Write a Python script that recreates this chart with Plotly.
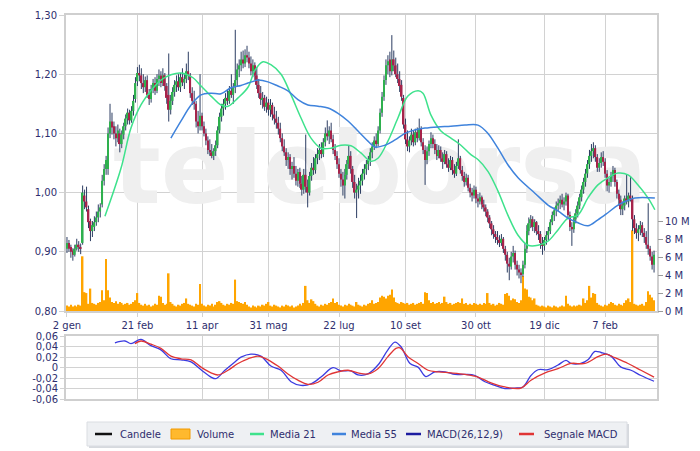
import plotly.graph_objects as go

# ---------------- data ----------------
TICK_IDX = [0, 36, 69, 103, 139, 173, 209, 244, 275]
TICK_LABELS = ["2 gen", "21 feb", "11 apr", "31 mag", "22 lug", "10 set", "30 ott", "19 dic", "7 feb"]

# prices in thousandths of a euro
OPEN = [
    905, 915, 908, 902, 895, 905, 912, 908, 915, 995,
    985, 972, 952, 935, 942, 950, 958, 968, 980, 1020,
    1040, 1040, 1100, 1120, 1112, 1100, 1092, 1100, 1082, 1098,
    1112, 1125, 1135, 1122, 1138, 1158, 1188, 1202, 1198, 1185,
    1178, 1190, 1165, 1158, 1175, 1185, 1172, 1192, 1198, 1185,
    1198, 1180, 1165, 1140, 1155, 1170, 1182, 1188, 1178, 1195,
    1186, 1192, 1205, 1198, 1168, 1155, 1150, 1120, 1112, 1130,
    1112, 1100, 1088, 1072, 1068, 1062, 1070, 1080, 1105, 1128,
    1142, 1150, 1160, 1155, 1172, 1165, 1178, 1190, 1208, 1215,
    1225, 1218, 1232, 1228, 1218, 1205, 1215, 1198, 1182, 1168,
    1158, 1160, 1145, 1152, 1140, 1148, 1132, 1125, 1118, 1108,
    1092, 1078, 1068, 1055, 1060, 1040, 1045, 1032, 1020, 1035,
    1015, 1005, 1030, 1010, 1000, 1028, 1042, 1038, 1058, 1065,
    1072, 1065, 1085, 1100, 1095, 1105, 1090, 1072, 1062, 1048,
    1032, 1022, 1012, 1030, 1048, 1062, 1040, 1018, 1000, 1005,
    1012, 1020, 1032, 1040, 1048, 1055, 1068, 1078, 1088, 1082,
    1105, 1135, 1162, 1190, 1215, 1225, 1205, 1225, 1215, 1200,
    1192, 1182, 1160, 1115, 1090, 1078, 1088, 1098, 1085, 1102,
    1092, 1108, 1085, 1072, 1055, 1070, 1082, 1092, 1082, 1072,
    1062, 1072, 1058, 1052, 1065, 1048, 1042, 1055, 1038, 1032,
    1045, 1058, 1038, 1028, 1018, 1025, 1008, 1000, 995, 1005,
    990, 985, 992, 980, 975, 968, 958, 948, 938, 930,
    925, 920, 915, 922, 905, 895, 880, 875, 892, 898,
    878, 870, 865, 862, 878, 905, 935, 948, 955, 942,
    950, 935, 930, 915, 910, 920, 928, 935, 950, 962,
    970, 978, 982, 988, 980, 985, 995, 962, 942, 938,
    955, 965, 978, 992, 1005, 1018, 1032, 1048, 1062, 1070,
    1075, 1060, 1042, 1050, 1060, 1052, 1032, 1012, 1018, 1028,
    1038, 1018, 998, 988, 972, 978, 990, 985, 995, 990,
    955, 940, 932, 938, 945, 932, 925, 912, 905, 892,
    878,
]
HIGH = [
    925, 920, 912, 906, 912, 922, 918, 914, 1012, 1005,
    1010, 978, 956, 952, 960, 968, 980, 982, 1030, 1048,
    1062, 1110, 1150, 1135, 1120, 1112, 1115, 1108, 1105, 1118,
    1132, 1142, 1140, 1146, 1165, 1195, 1212, 1216, 1210, 1200,
    1196, 1198, 1175, 1182, 1192, 1195, 1200, 1208, 1205, 1210,
    1202, 1185, 1235, 1165, 1178, 1190, 1198, 1200, 1202, 1210,
    1200, 1218, 1238, 1202, 1178, 1172, 1155, 1138, 1200, 1135,
    1120, 1108, 1095, 1090, 1082, 1075, 1088, 1112, 1135, 1150,
    1158, 1168, 1175, 1180, 1200, 1185, 1275, 1218, 1225, 1238,
    1240, 1242, 1248, 1238, 1230, 1225, 1220, 1212, 1192, 1180,
    1170, 1165, 1162, 1158, 1158, 1152, 1145, 1138, 1128, 1118,
    1100, 1090, 1075, 1068, 1065, 1052, 1060, 1045, 1040, 1042,
    1028, 1040, 1098, 1022, 1035, 1050, 1060, 1065, 1075, 1082,
    1085, 1092, 1110, 1122, 1112, 1118, 1098, 1082, 1070, 1058,
    1040, 1035, 1040, 1055, 1080, 1070, 1045, 1030, 1015, 1025,
    1030, 1040, 1048, 1055, 1062, 1075, 1085, 1095, 1100, 1112,
    1142, 1170, 1198, 1225, 1232, 1238, 1266, 1240, 1228, 1218,
    1205, 1190, 1165, 1125, 1105, 1095, 1108, 1105, 1108, 1110,
    1125, 1112, 1092, 1080, 1078, 1088, 1102, 1098, 1090, 1082,
    1080, 1078, 1068, 1072, 1070, 1058, 1062, 1060, 1048, 1052,
    1090, 1062, 1045, 1035, 1032, 1030, 1015, 1008, 1012, 1010,
    998, 1000, 995, 988, 980, 972, 962, 952, 945, 935,
    935, 928, 930, 925, 910, 900, 890, 900, 910, 902,
    885, 878, 872, 885, 915, 945, 958, 962, 960, 955,
    952, 945, 935, 925, 925, 935, 942, 955, 968, 975,
    985, 990, 995, 998, 992, 1000, 998, 968, 950, 960,
    972, 985, 998, 1012, 1025, 1040, 1055, 1072, 1082, 1085,
    1080, 1065, 1058, 1068, 1070, 1058, 1038, 1025, 1035, 1045,
    1042, 1022, 1005, 995, 985, 995, 1030, 1000, 1028, 995,
    962, 948, 945, 952, 950, 940, 935, 982, 910, 900,
    902,
]
LOW = [
    898, 900, 890, 885, 892, 902, 900, 896, 912, 972,
    968, 940, 918, 925, 935, 944, 950, 958, 975, 1012,
    1030, 1030, 1092, 1098, 1090, 1078, 1085, 1068, 1075, 1090,
    1105, 1115, 1115, 1118, 1130, 1152, 1180, 1188, 1175, 1168,
    1170, 1160, 1148, 1152, 1168, 1165, 1168, 1180, 1178, 1180,
    1172, 1150, 1120, 1132, 1148, 1162, 1170, 1172, 1170, 1180,
    1175, 1185, 1190, 1160, 1148, 1140, 1110, 1100, 1105, 1105,
    1095, 1080, 1065, 1062, 1058, 1055, 1062, 1075, 1100, 1120,
    1130, 1140, 1148, 1150, 1160, 1150, 1168, 1180, 1195, 1205,
    1210, 1212, 1220, 1210, 1198, 1195, 1190, 1175, 1160, 1148,
    1142, 1138, 1135, 1130, 1128, 1122, 1115, 1108, 1098, 1085,
    1070, 1062, 1045, 1040, 1030, 1022, 1025, 1012, 1010, 1008,
    995, 998, 1000, 975, 995, 1020, 1030, 1032, 1048, 1055,
    1058, 1060, 1078, 1088, 1082, 1085, 1065, 1055, 1040, 1025,
    1010, 995, 990, 1022, 1040, 1032, 1008, 990, 957, 990,
    998, 1012, 1022, 1030, 1038, 1045, 1058, 1072, 1075, 1078,
    1100, 1128, 1155, 1182, 1200, 1195, 1198, 1205, 1195, 1185,
    1170, 1155, 1108, 1082, 1070, 1068, 1080, 1078, 1080, 1085,
    1088, 1078, 1065, 1013, 1048, 1062, 1075, 1075, 1065, 1055,
    1058, 1052, 1040, 1048, 1042, 1035, 1038, 1030, 1025, 1028,
    1040, 1032, 1020, 1010, 1012, 1002, 992, 985, 990, 982,
    975, 980, 972, 968, 960, 950, 940, 928, 922, 915,
    912, 908, 910, 898, 885, 865, 852, 870, 882, 870,
    860, 855, 847, 858, 872, 898, 928, 940, 935, 932,
    928, 920, 905, 895, 902, 912, 920, 930, 945, 952,
    960, 968, 972, 975, 970, 978, 955, 935, 910, 932,
    948, 958, 972, 985, 998, 1010, 1025, 1040, 1052, 1058,
    1052, 1035, 1035, 1042, 1045, 1025, 1002, 1000, 1010, 1018,
    1010, 990, 978, 962, 962, 970, 980, 975, 985, 935,
    930, 922, 918, 928, 925, 915, 905, 895, 885, 870,
    865,
]
CLOSE = [
    915, 905, 900, 895, 905, 912, 908, 905, 1000, 985,
    975, 950, 935, 945, 950, 958, 968, 975, 1020, 1040,
    1055, 1100, 1120, 1110, 1100, 1092, 1105, 1082, 1098, 1112,
    1125, 1135, 1122, 1138, 1155, 1185, 1202, 1198, 1185, 1178,
    1190, 1165, 1158, 1175, 1185, 1172, 1192, 1198, 1185, 1198,
    1180, 1160, 1140, 1155, 1170, 1182, 1188, 1178, 1195, 1186,
    1192, 1205, 1198, 1168, 1155, 1150, 1120, 1112, 1130, 1112,
    1100, 1088, 1072, 1068, 1062, 1070, 1080, 1105, 1128, 1142,
    1150, 1160, 1155, 1172, 1165, 1178, 1190, 1208, 1215, 1225,
    1218, 1232, 1228, 1218, 1205, 1215, 1198, 1182, 1168, 1158,
    1160, 1145, 1152, 1140, 1148, 1132, 1125, 1118, 1108, 1092,
    1078, 1068, 1055, 1060, 1040, 1045, 1032, 1020, 1035, 1015,
    1005, 1030, 1010, 1000, 1028, 1042, 1038, 1058, 1065, 1072,
    1065, 1085, 1100, 1095, 1105, 1090, 1072, 1062, 1048, 1032,
    1022, 1012, 1030, 1048, 1062, 1040, 1018, 1000, 1005, 1012,
    1020, 1032, 1040, 1048, 1055, 1068, 1078, 1088, 1082, 1105,
    1135, 1162, 1190, 1215, 1222, 1205, 1225, 1215, 1200, 1192,
    1180, 1162, 1115, 1090, 1078, 1088, 1098, 1085, 1102, 1092,
    1108, 1085, 1072, 1055, 1070, 1082, 1092, 1082, 1072, 1062,
    1072, 1058, 1052, 1065, 1048, 1042, 1055, 1038, 1032, 1045,
    1058, 1038, 1028, 1018, 1025, 1008, 1000, 995, 1005, 990,
    985, 992, 980, 975, 968, 958, 948, 938, 930, 925,
    920, 915, 922, 905, 895, 880, 875, 892, 898, 878,
    870, 865, 862, 878, 905, 935, 948, 955, 942, 950,
    935, 930, 915, 910, 920, 928, 935, 950, 962, 970,
    978, 982, 988, 980, 985, 995, 962, 942, 938, 955,
    965, 978, 992, 1005, 1018, 1032, 1048, 1062, 1070, 1075,
    1060, 1042, 1050, 1060, 1052, 1032, 1012, 1018, 1028, 1038,
    1018, 998, 988, 972, 978, 990, 985, 995, 990, 955,
    940, 932, 938, 945, 932, 925, 912, 905, 892, 878,
    895,
]
# volume in tenths of a million shares
VOLUME = [
    6, 5, 7, 5, 6, 5, 7, 6, 61, 21,
    20, 8, 25, 9, 8, 7, 9, 10, 23, 12,
    58, 23, 15, 10, 9, 11, 8, 10, 9, 7,
    8, 9, 7, 8, 10, 12, 20, 9, 7, 6,
    8, 6, 7, 5, 6, 8, 7, 17, 16, 9,
    7, 8, 42, 10, 8, 6, 5, 7, 6, 8,
    9, 14, 8, 7, 6, 5, 8, 7, 30, 8,
    6, 5, 7, 6, 8, 5, 7, 10, 11, 9,
    7, 6, 8, 7, 9, 8, 35, 11, 10, 9,
    8, 10, 7, 5, 4, 6, 5, 4, 6, 5,
    7, 6, 8, 10, 6, 5, 7, 6, 5, 4,
    6, 5, 7, 6, 5, 6, 4, 5, 6, 8,
    6, 9, 28, 12, 9, 13, 11, 8, 6, 5,
    7, 6, 8, 7, 9, 10, 14, 9, 10, 7,
    6, 5, 7, 6, 8, 7, 6, 5, 10, 7,
    6, 5, 7, 6, 8, 9, 12, 8, 9, 10,
    15, 17, 16, 14, 17, 18, 24, 15, 10, 9,
    8, 10, 9, 8, 9, 7, 8, 9, 7, 8,
    9, 10, 8, 21, 20, 12, 9, 10, 8, 9,
    10, 8, 9, 16, 10, 8, 9, 7, 8, 9,
    10, 9, 14, 8, 9, 7, 8, 7, 9, 8,
    7, 8, 7, 9, 8, 20, 9, 7, 8, 6,
    7, 9, 8, 7, 19, 20, 17, 12, 14, 13,
    10, 9, 12, 39, 25, 24, 16, 15, 12, 14,
    7, 6, 5, 6, 5, 4, 6, 5, 4, 6,
    5, 4, 5, 6, 5, 17, 8, 6, 5, 6,
    5, 6, 7, 6, 14, 9, 12, 28, 15, 20,
    19, 9, 7, 6, 5, 7, 6, 8, 10, 9,
    7, 6, 8, 7, 6, 9, 12, 14, 10, 90,
    8, 7, 6, 7, 8, 6, 10, 22, 18, 15,
    12,
]

MA21_IDX = [19.4, 27.6, 32.7, 37.8, 42.9, 48.0, 53.1, 58.3, 64.4, 68.5, 73.6, 78.7, 82.3, 87.4,
            92.5, 96.1, 100.2, 104.2, 109.4, 114.5, 119.6, 124.7, 129.8, 134.9, 140.0, 145.1,
            150.2, 155.3, 158.9, 164.0, 169.1, 174.2, 179.4, 181.9, 186.0, 191.1, 196.2, 201.3,
            206.4, 210.0, 215.1, 220.2, 225.3, 230.5, 235.6, 240.7, 245.8, 250.9, 256.0, 261.1,
            266.2, 271.3, 276.4, 281.6, 286.7, 291.8, 296.9, 300.4]
MA21_VAL = [0.960, 1.041, 1.109, 1.148, 1.172, 1.190, 1.199, 1.202, 1.194, 1.180, 1.163, 1.148, 1.146, 1.160,
            1.178, 1.207, 1.221, 1.216, 1.200, 1.165, 1.126, 1.092, 1.075, 1.075, 1.080, 1.079,
            1.067, 1.053, 1.058, 1.087, 1.126, 1.163, 1.172, 1.168, 1.131, 1.104, 1.092, 1.080,
            1.064, 1.056, 1.036, 1.003, 0.962, 0.928, 0.911, 0.911, 0.918, 0.937, 0.957, 0.962,
            0.991, 1.013, 1.025, 1.033, 1.030, 1.013, 0.991, 0.971]

MA55_IDX = [53.1, 58.3, 63.4, 68.5, 73.6, 78.7, 83.8, 88.9, 92.5, 97.6, 102.7, 107.8, 112.9, 118.0,
            123.1, 128.3, 133.4, 138.5, 143.6, 148.7, 153.8, 157.4, 162.5, 167.6, 172.7, 177.8,
            182.9, 189.6, 196.2, 203.4, 210.0, 215.1, 220.2, 225.3, 230.5, 239.1, 245.8, 250.9,
            256.0, 261.1, 266.2, 271.3, 276.4, 281.6, 286.7, 290.2, 300.4]
MA55_VAL = [1.092, 1.121, 1.148, 1.165, 1.168, 1.167, 1.177, 1.181, 1.185, 1.190, 1.187, 1.180, 1.172, 1.157,
            1.148, 1.146, 1.143, 1.134, 1.121, 1.104, 1.087, 1.077, 1.080, 1.089, 1.100, 1.106,
            1.109, 1.111, 1.112, 1.114, 1.114, 1.100, 1.075, 1.047, 1.025, 0.999, 0.979, 0.969,
            0.957, 0.949, 0.944, 0.954, 0.966, 0.979, 0.987, 0.991, 0.991]

MACD_IDX = [24.5, 29.6, 32.7, 37.8, 42.9, 48.0, 53.1, 58.3, 63.4, 68.5, 73.6, 76.1, 80.7, 85.8, 88.9,
            94.0, 99.1, 104.2, 109.4, 114.5, 119.6, 124.7, 129.8, 135.9, 140.0, 145.1, 148.7,
            153.8, 158.9, 164.0, 167.6, 170.7, 175.3, 179.4, 183.4, 188.0, 193.2, 198.3, 203.4,
            208.5, 213.6, 218.7, 223.8, 228.9, 233.0, 237.1, 240.7, 245.8, 250.9, 255.0, 257.5,
            262.6, 266.2, 269.8, 272.9, 278.0, 283.1, 288.2, 293.3, 300.0]
MACD_VAL = [0.0475, 0.051, 0.046, 0.054, 0.042, 0.034, 0.017, 0.015, 0.011, -0.004, -0.018, -0.021, -0.005,
            0.011, 0.020, 0.026, 0.022, 0.003, -0.005, -0.027, -0.034, -0.031, -0.018, 0.000, -0.006,
            -0.006, -0.014, -0.012, 0.005, 0.034, 0.049, 0.040, 0.008, 0.001, -0.017, -0.008, -0.008,
            -0.013, -0.013, -0.015, -0.027, -0.034, -0.040, -0.039, -0.037, -0.015, -0.004, -0.004,
            0.005, 0.014, 0.008, 0.008, 0.015, 0.031, 0.029, 0.022, 0.001, -0.005, -0.015, -0.026]

SIGNAL_IDX = [34.7, 37.8, 42.9, 48.0, 53.1, 58.3, 63.4, 68.5, 73.6, 77.2, 82.3, 87.4, 92.5, 97.6,
              102.7, 107.8, 112.9, 118.0, 123.1, 128.3, 133.4, 138.5, 143.6, 148.7, 153.8, 158.9,
              164.0, 168.1, 170.2, 174.2, 179.4, 184.5, 189.6, 196.2, 203.4, 210.0, 216.7, 223.8,
              232.0, 237.1, 244.3, 250.9, 257.5, 264.7, 271.3, 275.4, 280.0, 286.7, 293.3, 300.0]
SIGNAL_VAL = [0.046, 0.051, 0.045, 0.037, 0.022, 0.017, 0.015, 0.001, -0.010, -0.014, -0.005, 0.008,
              0.017, 0.022, 0.015, 0.003, -0.012, -0.024, -0.032, -0.028, -0.014, -0.008, -0.005,
              -0.010, -0.012, -0.002, 0.021, 0.037, 0.038, 0.021, 0.008, -0.005, -0.008, -0.010,
              -0.013, -0.018, -0.029, -0.037, -0.039, -0.024, -0.010, -0.002, 0.008, 0.008, 0.021,
              0.026, 0.019, 0.008, -0.005, -0.018]

PRICE_TICKS = [0.80, 0.90, 1.00, 1.10, 1.20, 1.30]
PRICE_LABELS = ["0,80", "0,90", "1,00", "1,10", "1,20", "1,30"]
VOL_TICKS_M = [0, 2, 4, 6, 8, 10]
VOL_LABELS = ["0 M", "2 M", "4 M", "6 M", "8 M", "10 M"]
MACD_TICKS = [-0.06, -0.04, -0.02, 0, 0.02, 0.04, 0.06]
MACD_LABELS = ["-0,06", "-0,04", "-0,02", "0", "0,02", "0,04", "0,06"]

LEGEND_NAMES = ["Candele", "Volume", "Media 21", "Media 55", "MACD(26,12,9)", "Segnale MACD"]

# ---------------- styling ----------------
W, H = 700, 451
TXT = "#2e2e6e"
GRID = "#d2d2d2"
BORDER = "#cfcfcf"
FONT = "DejaVu Sans"
C_UP = "#2eb04e"
C_DOWN = "#a6234a"
C_WICK = "#2c3d62"
C_MA21 = "#3ee28c"
C_MA55 = "#3f83dc"
C_MACD = "#3b3be0"
C_SIG = "#e03535"
C_VOL = "#ffa500"


def px(x):
    return x / W


def py(y):
    return 1 - y / H


XDOM = [px(58), px(649)]
N = len(CLOSE)
assert len(OPEN) == N and len(HIGH) == N and len(LOW) == N and len(VOLUME) == N
idx = list(range(N))

o = [v / 1000 for v in OPEN]
h = [v / 1000 for v in HIGH]
lo = [v / 1000 for v in LOW]
c = [v / 1000 for v in CLOSE]

body_base = [min(a, b) for a, b in zip(o, c)]
body_len = [max(abs(b - a), 0.002) for a, b in zip(o, c)]
body_col = [C_UP if b >= a else C_DOWN for a, b in zip(o, c)]

wick_x, wick_y = [], []
for i in idx:
    wick_x += [i, i, None]
    wick_y += [lo[i], h[i], None]

fig = go.Figure()

# watermark on the base axes (drawn beneath the overlaid data axes)
fig.add_trace(go.Scatter(
    x=[160], y=[1.025], mode="text", text=["teleborsa"],
    textfont=dict(size=100, color="#efefef", family=FONT, weight="bold"),
    xaxis="x", yaxis="y", hoverinfo="skip", showlegend=False, cliponaxis=True))

# volume
fig.add_trace(go.Bar(
    x=idx, y=[v * 1e5 for v in VOLUME], xaxis="x", yaxis="y2",
    marker=dict(color=C_VOL, line=dict(width=0)), width=0.8,
    name="Volume", showlegend=False))

# candle wicks
fig.add_trace(go.Scatter(x=wick_x, y=wick_y, mode="lines", xaxis="x", yaxis="y3",
                         line=dict(color=C_WICK, width=1), hoverinfo="skip", showlegend=False))
# candle bodies
fig.add_trace(go.Bar(x=idx, y=body_len, base=body_base, xaxis="x", yaxis="y5", width=0.85,
                     marker=dict(color=body_col, line=dict(width=0)), name="Candele",
                     showlegend=False))

# moving averages
fig.add_trace(go.Scatter(x=MA21_IDX, y=MA21_VAL, mode="lines", xaxis="x", yaxis="y6",
                         line=dict(color=C_MA21, width=1.5, shape="spline"), showlegend=False))
fig.add_trace(go.Scatter(x=MA55_IDX, y=MA55_VAL, mode="lines", xaxis="x", yaxis="y6",
                         line=dict(color=C_MA55, width=1.5, shape="spline"), showlegend=False))

# MACD panel
fig.add_trace(go.Scatter(x=MACD_IDX, y=MACD_VAL, mode="lines", xaxis="x2", yaxis="y4",
                         line=dict(color=C_MACD, width=1.3, shape="spline"), showlegend=False))
fig.add_trace(go.Scatter(x=SIGNAL_IDX, y=SIGNAL_VAL, mode="lines", xaxis="x2", yaxis="y4",
                         line=dict(color=C_SIG, width=1.3, shape="spline"), showlegend=False))

tickfont = dict(family=FONT, size=10, color=TXT)
XR = [-0.5, 301.5]
PR = [0.8, 1.3]

fig.update_layout(
    width=W, height=H, margin=dict(l=0, r=0, t=0, b=0, autoexpand=False),
    paper_bgcolor="white", plot_bgcolor="white", showlegend=False, barmode="overlay",
    xaxis=dict(domain=XDOM, anchor="y", range=XR, tickvals=TICK_IDX, ticktext=TICK_LABELS,
               showgrid=True, gridcolor=GRID, gridwidth=1, ticks="outside", ticklen=4,
               tickcolor=GRID, showline=True, mirror=True, linecolor=BORDER, linewidth=2,
               zeroline=False, tickfont=tickfont, automargin=False),
    yaxis=dict(domain=[py(303), py(7)], anchor="x", range=PR, tickvals=PRICE_TICKS,
               ticktext=PRICE_LABELS, showgrid=True, gridcolor=GRID, ticks="outside", ticklen=5,
               tickcolor=GRID, showline=True, mirror=True, linecolor=BORDER, linewidth=2,
               zeroline=False, tickfont=tickfont, automargin=False),
    yaxis2=dict(overlaying="y", side="right", anchor="x", range=[0, 33e6],
                tickvals=[v * 1e6 for v in VOL_TICKS_M], ticktext=VOL_LABELS, showgrid=False,
                ticks="outside", ticklen=5, tickcolor="#9a9a9a", zeroline=False, showline=False,
                tickfont=tickfont, automargin=False),
    yaxis3=dict(overlaying="y", anchor="x", range=PR, visible=False, automargin=False),
    yaxis5=dict(overlaying="y", anchor="x", range=PR, visible=False, automargin=False),
    yaxis6=dict(overlaying="y", anchor="x", range=PR, visible=False, automargin=False),
    xaxis2=dict(domain=XDOM, anchor="y4", range=XR, tickvals=TICK_IDX, showticklabels=False,
                showgrid=True, gridcolor=GRID, ticks="", showline=True, mirror=True,
                linecolor=BORDER, linewidth=2, zeroline=False, automargin=False),
    yaxis4=dict(domain=[py(391), py(328.3)], anchor="x2", range=[-0.06, 0.06],
                tickvals=MACD_TICKS, ticktext=MACD_LABELS, showgrid=True, gridcolor=GRID,
                ticks="outside", ticklen=4, tickcolor=GRID, showline=True, mirror=True,
                linecolor=BORDER, linewidth=2, zeroline=False, tickfont=tickfont,
                automargin=False),
)

# ---------------- hand-drawn legend box ----------------
shapes = [
    dict(type="rect", xref="paper", yref="paper", x0=px(81), x1=px(621), y0=py(440), y1=py(416),
         fillcolor="#d6d9de", line=dict(width=0), layer="below"),
    dict(type="rect", xref="paper", yref="paper", x0=px(79), x1=px(619), y0=py(438), y1=py(414),
         fillcolor="#eef0f3", line=dict(color="#dadde2", width=1), layer="below"),
]
YC = 426
sym = [("line", 87, 104, "#111111"), ("rect", 163, 182, C_VOL), ("line", 242, 256, C_MA21),
       ("line", 324, 338, C_MA55), ("line", 398, 413, "#1c1ca0"), ("line", 511, 526, C_SIG)]
text_x = [110, 187, 260, 341, 417, 534]
annotations = []
for (kind, a, b, col), tx, name in zip(sym, text_x, LEGEND_NAMES):
    if kind == "line":
        shapes.append(dict(type="line", xref="paper", yref="paper", x0=px(a), x1=px(b),
                           y0=py(YC), y1=py(YC), line=dict(color=col, width=2.5)))
    else:
        shapes.append(dict(type="rect", xref="paper", yref="paper", x0=px(a), x1=px(b),
                           y0=py(YC + 5), y1=py(YC - 5), fillcolor="#ffb92e",
                           line=dict(color="#f29a00", width=1)))
    annotations.append(dict(xref="paper", yref="paper", x=px(tx), y=py(YC), text=name,
                            showarrow=False, xanchor="left", yanchor="middle",
                            font=dict(family=FONT, size=10, color=TXT)))

fig.update_layout(shapes=shapes, annotations=annotations)

fig.write_html("out.html")
